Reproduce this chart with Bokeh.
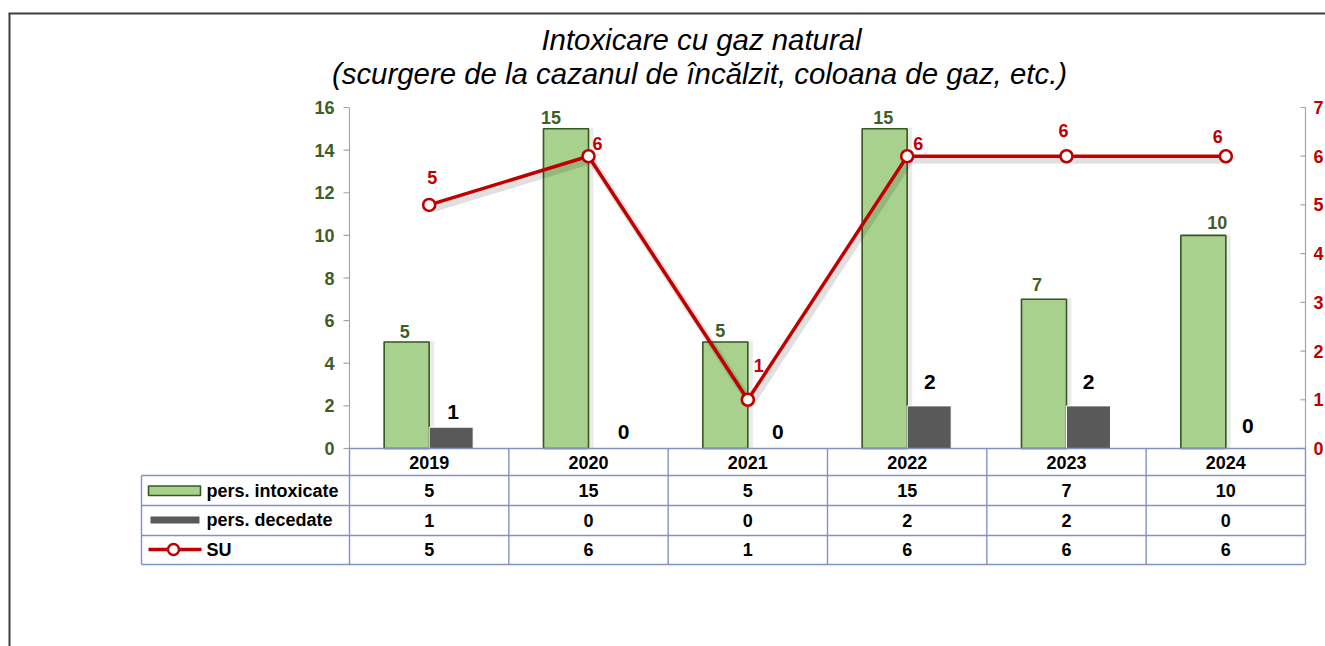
import numpy as np
from bokeh.plotting import figure
from bokeh.models import Range1d, ColumnDataSource
from bokeh.core.properties import value
from bokeh.embed import file_html
from bokeh.resources import INLINE

# ---------------- data ----------------
years = ["2019", "2020", "2021", "2022", "2023", "2024"]
intoxicate = [5, 15, 5, 15, 7, 10]
decedate = [1, 0, 0, 2, 2, 0]
su = [5, 6, 1, 6, 6, 6]
left_ticks = [0, 2, 4, 6, 8, 10, 12, 14, 16]
right_ticks = [0, 1, 2, 3, 4, 5, 6, 7]
series_names = ["pers. intoxicate", "pers. decedate", "SU"]
title_lines = ["Intoxicare cu gaz natural",
               "(scurgere de la cazanul de încălzit, coloana de gaz, etc.)"]

# ---------------- layout (picture pixels) ----------------
W_PX, H_PX = 1325, 646
ORIGIN = 0
PLOT_L, PLOT_R = 349, 1305
PLOT_T, PLOT_B = 107, 448
LEFT_MAX, RIGHT_MAX = 16, 7
n = len(years)
CAT = (PLOT_R - PLOT_L) / n
YPX = (PLOT_B - PLOT_T) / LEFT_MAX
YPX2 = (PLOT_B - PLOT_T) / RIGHT_MAX


def X(px):
    return (px - PLOT_L) / CAT


def Y(py):
    return (PLOT_B - py) / YPX


FONT = value("Liberation Sans")
GREEN_TXT = "#3f5e26"
RED = "#c00000"
GRID = "#8193c2"
FS = "18px"

p = figure(width=W_PX, height=H_PX,
           x_range=Range1d(X(ORIGIN), X(ORIGIN + W_PX)),
           y_range=Range1d(Y(ORIGIN + H_PX), Y(ORIGIN)),
           x_axis_location=None, y_axis_location=None,
           output_backend="svg", toolbar_location=None, min_border=0)
p.extra_y_ranges = {"su": Range1d((PLOT_B - (ORIGIN + H_PX)) / YPX2,
                                  (PLOT_B - ORIGIN) / YPX2)}
p.xgrid.visible = False
p.ygrid.visible = False
p.outline_line_color = None
p.background_fill_color = "white"
p.border_fill_color = "white"

cx = np.arange(n) + 0.5

# outer frame
p.segment(x0=[X(8), X(9)], y0=[Y(13), Y(13)],
          x1=[X(ORIGIN + W_PX), X(9)], y1=[Y(13), Y(ORIGIN + H_PX)],
          line_color="#3f3f3f", line_width=2)

# title
p.text(x=[X(701), X(699)], y=[Y(39), Y(73)], text=title_lines,
       text_font=FONT, text_font_size="29.4px", text_font_style="italic",
       text_color="black", text_align="center", text_baseline="middle")

# left axis
p.segment(x0=[0], y0=[0], x1=[0], y1=[LEFT_MAX], line_color="#a6a6a6", line_width=1.2)
p.segment(x0=[X(343)] * len(left_ticks), y0=left_ticks, x1=[0] * len(left_ticks),
          y1=left_ticks, line_color="#a6a6a6", line_width=1.2)
p.text(x=[X(334)] * len(left_ticks), y=left_ticks, text=[str(t) for t in left_ticks],
       text_font=FONT, text_font_size=FS, text_font_style="bold",
       text_color=GREEN_TXT, text_align="right", text_baseline="middle")

# right axis
p.segment(x0=[n], y0=[0], x1=[n], y1=[RIGHT_MAX], line_color="#a6a6a6",
          line_width=1.2, y_range_name="su")
p.segment(x0=[X(1300)] * len(right_ticks), y0=right_ticks, x1=[n] * len(right_ticks),
          y1=right_ticks, line_color="#a6a6a6", line_width=1.2, y_range_name="su")
p.text(x=[X(1313)] * len(right_ticks), y=right_ticks, text=[str(t) for t in right_ticks],
       text_font=FONT, text_font_size=FS, text_font_style="bold",
       text_color=RED, text_align="left", text_baseline="middle", y_range_name="su")

# bars
gw = 45 / CAT
dw = 44 / CAT
green_x = cx - gw / 2
gray_x = cx + dw / 2
p.vbar(x=green_x + 2 / CAT, width=gw + 6 / CAT, bottom=0, top=np.array(intoxicate) + 1 / YPX,
       fill_color="#000000", fill_alpha=0.08, line_color=None)
p.vbar(x=green_x, width=gw, bottom=0, top=intoxicate,
       fill_color="#a9d18e", line_color="#385723", line_width=1.6)
p.vbar(x=gray_x, width=dw, bottom=0, top=decedate,
       fill_color="#595959", line_color="white", line_width=1)

# SU line
p.line(x=cx + 3 / CAT, y=np.array(su) - 4 / YPX2, line_color="#000000",
       line_alpha=0.12, line_width=7, y_range_name="su")
p.line(x=cx, y=su, line_color=RED, line_width=3.5, y_range_name="su")
p.scatter(x=cx, y=su, marker="circle", size=12, fill_color="white",
          line_color=RED, line_width=2.6, y_range_name="su")

# value labels (pixel offsets are layout)
g_off = [(-2, -10), (-15, -11), (-5, -11), (-1.5, -11), (-7, -15), (14, -13)]
d_off = [(2, -15), (13, -17), (8, -17), (0.6, -24), (0, -24), (0, -23)]
s_off = [(3, -27), (9, -13), (11, -34), (11, -13), (-3, -26), (-8, -20)]

gsrc = ColumnDataSource(dict(
    x=[green_x[i] + g_off[i][0] / CAT for i in range(n)],
    y=[intoxicate[i] - g_off[i][1] / YPX for i in range(n)],
    t=[str(v) for v in intoxicate]))
p.text(x="x", y="y", text="t", source=gsrc, text_font=FONT, text_font_size=FS,
       text_font_style="bold", text_color=GREEN_TXT, text_align="center",
       text_baseline="middle")
dsrc = ColumnDataSource(dict(
    x=[gray_x[i] + d_off[i][0] / CAT for i in range(n)],
    y=[decedate[i] - d_off[i][1] / YPX for i in range(n)],
    t=[str(v) for v in decedate]))
p.text(x="x", y="y", text="t", source=dsrc, text_font=FONT, text_font_size="21px",
       text_font_style="bold", text_color="black", text_align="center",
       text_baseline="middle")
ssrc = ColumnDataSource(dict(
    x=[cx[i] + s_off[i][0] / CAT for i in range(n)],
    y=[su[i] - s_off[i][1] / YPX2 for i in range(n)],
    t=[str(v) for v in su]))
p.text(x="x", y="y", text="t", source=ssrc, text_font=FONT, text_font_size=FS,
       text_font_style="bold", text_color=RED, text_align="center",
       text_baseline="middle", y_range_name="su")

# data table
row_lines = [475, 505, 535, 564]
row_centers = [490, 519.5, 549]
TL = 141
hx0 = [0] + [X(TL)] * len(row_lines)
hy = [0] + [Y(r) for r in row_lines]
hx1 = [n] * (len(row_lines) + 1)
p.segment(x0=hx0, y0=hy, x1=hx1, y1=hy, line_color=GRID, line_width=1.4)
vx = [X(TL)] + list(range(n + 1))
vy0 = [Y(475)] + [0] * (n + 1)
vy1 = [Y(564)] * (n + 2)
p.segment(x0=vx, y0=vy0, x1=vx, y1=vy1, line_color=GRID, line_width=1.4)

p.text(x=cx, y=[Y(461.5)] * n, text=years, text_font=FONT, text_font_size=FS,
       text_font_style="bold", text_color="black", text_align="center",
       text_baseline="middle")
for row, vals in zip(row_centers, [intoxicate, decedate, su]):
    p.text(x=cx, y=[Y(row)] * n, text=[str(v) for v in vals], text_font=FONT,
           text_font_size=FS, text_font_style="bold", text_color="black",
           text_align="center", text_baseline="middle")

# legend keys inside table
p.quad(left=[X(148)], right=[X(200)], bottom=[Y(495)], top=[Y(485.5)],
       fill_color="#a9d18e", line_color="#385723", line_width=1.6)
p.quad(left=[X(150)], right=[X(199)], bottom=[Y(523)], top=[Y(516)],
       fill_color="#595959", line_color=None)
p.line(x=[X(148), X(201)], y=[Y(549), Y(549)], line_color=RED, line_width=3.5)
p.scatter(x=[X(173)], y=[Y(549)], marker="circle", size=11, fill_color="white",
          line_color=RED, line_width=2.4)
p.text(x=[X(206)] * 3, y=[Y(r) for r in row_centers], text=series_names,
       text_font=FONT, text_font_size=FS, text_font_style="bold",
       text_color="black", text_align="left", text_baseline="middle")

open("out.html", "w").write(file_html(p, INLINE))
